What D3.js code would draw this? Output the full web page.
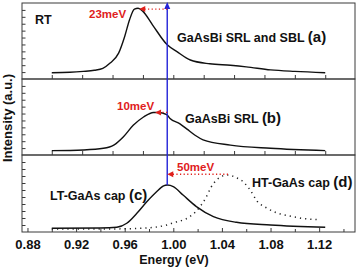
<!DOCTYPE html>
<html>
<head>
<meta charset="utf-8">
<script src="https://cdn.jsdelivr.net/npm/d3@7"></script>
<style>
  body { margin: 0; background: white; }
  svg { display: block; font-family: "Liberation Sans", Arial, sans-serif; }
</style>
</head>
<body>
<svg id="chart" width="358" height="270"></svg>
<script>
// ---- data (energy in eV, intensity in a.u., normalised per panel) ----
const srlSblEnergy = [0.900, 0.915, 0.926, 0.935, 0.942, 0.948, 0.955, 0.960, 0.964, 0.968, 0.971, 0.975, 0.983, 0.995, 1.003, 1.014, 1.030, 1.047, 1.060, 1.080, 1.100, 1.125];
const srlSblIntensity = [0.083, 0.088, 0.10, 0.115, 0.14, 0.21, 0.34, 0.56, 0.78, 0.92, 0.93, 0.89, 0.71, 0.45, 0.36, 0.25, 0.20, 0.18, 0.16, 0.12, 0.10, 0.083];

const srlEnergy = [0.900, 0.926, 0.9425, 0.951, 0.959, 0.967, 0.9755, 0.9837, 0.9876, 0.9946, 0.9973, 1.0055, 1.0113, 1.0179, 1.0245, 1.047, 1.080, 1.125];
const srlIntensity = [0.057, 0.066, 0.088, 0.13, 0.24, 0.39, 0.50, 0.56, 0.56, 0.53, 0.48, 0.41, 0.34, 0.26, 0.20, 0.13, 0.088, 0.057];

const ltCapEnergy = [0.900, 0.940, 0.9535, 0.9617, 0.970, 0.978, 0.986, 0.992, 0.995, 1.000, 1.008, 1.019, 1.033, 1.052, 1.080, 1.125];
const ltCapIntensity = [0.048, 0.052, 0.061, 0.113, 0.243, 0.39, 0.52, 0.60, 0.61, 0.59, 0.48, 0.33, 0.20, 0.126, 0.091, 0.061];

const htCapEnergy = [0.900, 0.950, 0.975, 0.9946, 1.000, 1.0137, 1.022, 1.027, 1.031, 1.036, 1.041, 1.046, 1.051, 1.057, 1.063, 1.069, 1.077, 1.085, 1.095, 1.105, 1.120];
const htCapIntensity = [0.04, 0.04, 0.05, 0.09, 0.12, 0.20, 0.33, 0.45, 0.58, 0.68, 0.73, 0.74, 0.71, 0.66, 0.55, 0.40, 0.31, 0.25, 0.21, 0.18, 0.16];

// reference energy (blue line) and peak shifts
const refEnergy = 0.995;
const shiftLabels = ["23meV", "10meV", "50meV"];
const shiftFrom = [0.995, 0.995, 1.045];   // tail of red arrow
const shiftTo = [0.972, 0.985, 0.995];     // head of red arrow
const shiftLevel = [0.92, 0.56, 0.75];     // arrow height in panel units

const panelLabels = ["GaAsBi SRL and SBL", "GaAsBi SRL", "LT-GaAs cap", "HT-GaAs cap"];
const panelTags = ["(a)", "(b)", "(c)", "(d)"];

const energyTicks = d3.range(0.88, 1.141, 0.02);
const energyLabels = ["0.88", "0.92", "0.96", "1.00", "1.04", "1.08", "1.12"];
const panelTicks = d3.range(0.9, 1.126, 0.025);
const intensityTicks = d3.range(1, 11).map(i => i / 11);

// ---- layout ----
const svg = d3.select("#chart");
const left = 22, right = 355;
const panelTop = [3, 79, 155];
const panelBottom = [79, 155, 232];

const x = d3.scaleLinear().domain([0.8755, 1.1495]).range([left, right]);
const y = panelTop.map((t, i) => d3.scaleLinear().domain([0, 1]).range([panelBottom[i], t]));

const line = (ys) => d3.line()
    .x(d => x(d[0]))
    .y(d => ys(d[1]))
    .curve(d3.curveMonotoneX);

const frameColor = "#3a3a3a";

// panels: frame + ticks
panelTop.forEach(function(t, i) {
    const g = svg.append("g");
    g.append("rect")
        .attr("x", left).attr("y", t)
        .attr("width", right - left).attr("height", panelBottom[i] - t)
        .attr("fill", "none").attr("stroke", frameColor).attr("stroke-width", 1);

    // left ticks pointing inward
    const yAxis = d3.axisLeft(y[i]).tickValues(intensityTicks).tickSize(-3.5).tickFormat("");
    g.append("g").attr("transform", `translate(${left},0)`).call(yAxis)
        .call(a => a.select(".domain").remove())
        .selectAll("line").attr("stroke", frameColor);

    if (i < 2) {
        const xAxis = d3.axisBottom(x).tickValues(panelTicks).tickSize(-4).tickFormat("");
        g.append("g").attr("transform", `translate(0,${panelBottom[i]})`).call(xAxis)
            .call(a => a.select(".domain").remove())
            .selectAll("line").attr("stroke", frameColor);
    }
});

// bottom energy axis
const fmt = d3.format(".2f");
const xAxis = d3.axisBottom(x).tickValues(energyTicks)
    .tickSize(-4).tickPadding(8)
    .tickFormat(d => energyLabels.includes(fmt(d)) ? fmt(d) : "");
const xg = svg.append("g").attr("transform", `translate(0,${panelBottom[2]})`).call(xAxis);
xg.select(".domain").remove();
xg.selectAll("line").attr("stroke", frameColor)
    .attr("y2", (d, i) => energyLabels.includes(fmt(d)) ? -4 : -3);
xg.selectAll("text")
    .attr("fill", "#111")
    .style("font-size", "13px").style("font-weight", "bold");

// axis titles
svg.append("text")
    .attr("x", 174).attr("y", 264)
    .attr("text-anchor", "middle")
    .style("font-size", "12.5px").style("font-weight", "bold")
    .attr("fill", "#111")
    .text("Energy (eV)");

svg.append("text")
    .attr("transform", "translate(11.5,118) rotate(-90)")
    .attr("text-anchor", "middle")
    .style("font-size", "13px").style("font-weight", "bold")
    .attr("fill", "#111")
    .text("Intensity (a.u.)");

// spectra
const toPairs = (e, v) => e.map((d, i) => [d, v[i]]);
svg.append("path").datum(toPairs(srlSblEnergy, srlSblIntensity))
    .attr("d", line(y[0])).attr("fill", "none").attr("stroke", "#111").attr("stroke-width", 1.4);
svg.append("path").datum(toPairs(srlEnergy, srlIntensity))
    .attr("d", line(y[1])).attr("fill", "none").attr("stroke", "#111").attr("stroke-width", 1.4);
svg.append("path").datum(toPairs(htCapEnergy, htCapIntensity))
    .attr("d", line(y[2])).attr("fill", "none").attr("stroke", "#222").attr("stroke-width", 1.5)
    .attr("stroke-dasharray", "1.2,4");
svg.append("path").datum(toPairs(ltCapEnergy, ltCapIntensity))
    .attr("d", line(y[2])).attr("fill", "none").attr("stroke", "#111").attr("stroke-width", 1.4);

// blue reference line with arrow head at top
const blue = "#2323d8";
const bx = x(refEnergy);
svg.append("line")
    .attr("x1", bx).attr("x2", bx)
    .attr("y1", 6).attr("y2", y[2](0.61))
    .attr("stroke", blue).attr("stroke-width", 1.4);
svg.append("path")
    .attr("d", `M${bx},2 L${bx - 3},9 L${bx + 3},9 Z`)
    .attr("fill", blue);

// red shift arrows
const red = "#e0201c";
shiftLabels.forEach(function(lbl, i) {
    const yy = y[i](shiftLevel[i]);
    const x0 = x(shiftFrom[i]), x1 = x(shiftTo[i]);
    svg.append("line")
        .attr("x1", x0).attr("x2", x1 + 5)
        .attr("y1", yy).attr("y2", yy)
        .attr("stroke", red).attr("stroke-width", 1.3)
        .attr("stroke-dasharray", "1.2,2.4");
    svg.append("path")
        .attr("d", `M${x1},${yy} L${x1 + 6},${yy - 3} L${x1 + 6},${yy + 3} Z`)
        .attr("fill", red);
});
const shiftTextPos = [[89, 18], [117, 110], [177, 171]];
shiftTextPos.forEach(function(p, i) {
    svg.append("text")
        .attr("x", p[0]).attr("y", p[1])
        .style("font-size", "11.5px").style("font-weight", "bold")
        .attr("fill", red)
        .text(shiftLabels[i]);
});

// panel texts
svg.append("text").attr("x", 35).attr("y", 24)
    .style("font-size", "12.5px").style("font-weight", "bold").attr("fill", "#111")
    .text("RT");

const labelPos = [[177, 42], [185, 123], [50, 200], [252, 187]];
labelPos.forEach(function(p, i) {
    const t = svg.append("text")
        .attr("x", p[0]).attr("y", p[1])
        .style("font-weight", "bold").attr("fill", "#111");
    t.append("tspan").style("font-size", "12.5px").text(panelLabels[i] + " ");
    t.append("tspan").style("font-size", "15px").text(panelTags[i]);
});
</script>
</body>
</html>
